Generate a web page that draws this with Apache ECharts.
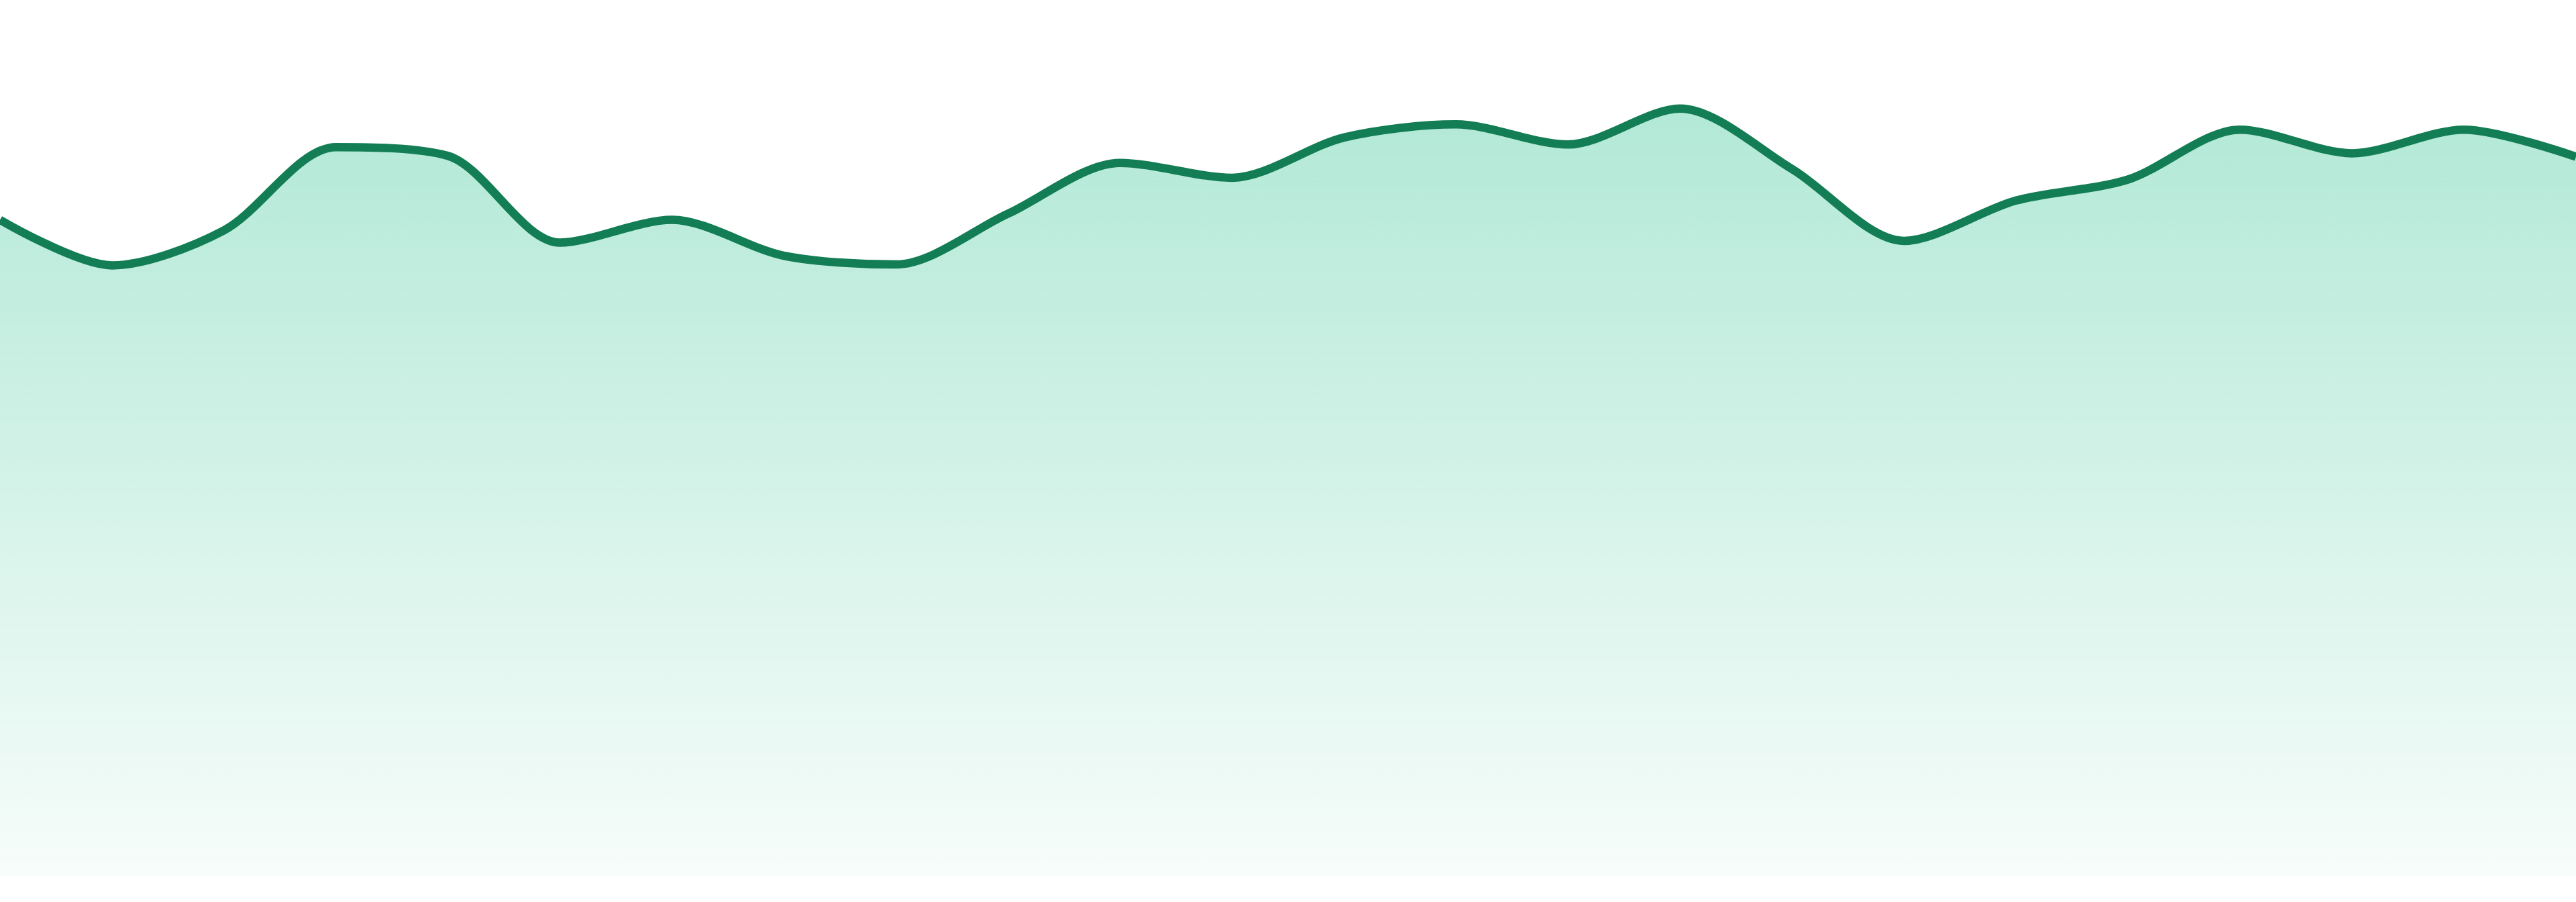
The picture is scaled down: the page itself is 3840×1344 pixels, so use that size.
<!DOCTYPE html>
<html>
<head>
<meta charset="utf-8">
<style>
html,body{margin:0;padding:0;background:#ffffff;}
#chart{width:3840px;height:1344px;}
</style>
<script src="https://cdn.jsdelivr.net/npm/echarts@6/dist/echarts.min.js"></script>
</head>
<body>
<div id="chart"></div>
<script>
const categories = ["00:00","01:00","02:00","03:00","04:00","05:00","06:00","07:00","08:00","09:00","10:00","11:00","12:00","13:00","14:00","15:00","16:00","17:00","18:00","19:00","20:00","21:00","22:00","23:00"];
const values = [74.9,69.7,73.7,83.2,82.2,72.3,74.9,70.8,69.8,75.6,81.4,79.7,84.3,85.8,83.5,87.6,80.7,72.5,77.1,79.5,85.2,82.5,85.2,82.1];
const yMin = 0;
const yMax = 100;

const chart = echarts.init(document.getElementById('chart'));
chart.setOption({
  animation: false,
  grid: {left: 0, right: 0, top: 0, bottom: 39, containLabel: false},
  xAxis: {type: 'category', data: categories, boundaryGap: false, show: false},
  yAxis: {type: 'value', min: yMin, max: yMax, show: false},
  series: [{
    type: 'line',
    data: values,
    smooth: 0.3,
    symbol: 'none',
    lineStyle: {color: '#137d55', width: 12.5},
    areaStyle: {
      opacity: 1,
      color: new echarts.graphic.LinearGradient(0, 0, 0, 1, [
        {offset: 0, color: 'rgba(16,185,129,0.32)'},
        {offset: 1, color: 'rgba(16,185,129,0.035)'}
      ])
    }
  }]
});
</script>
</body>
</html>
